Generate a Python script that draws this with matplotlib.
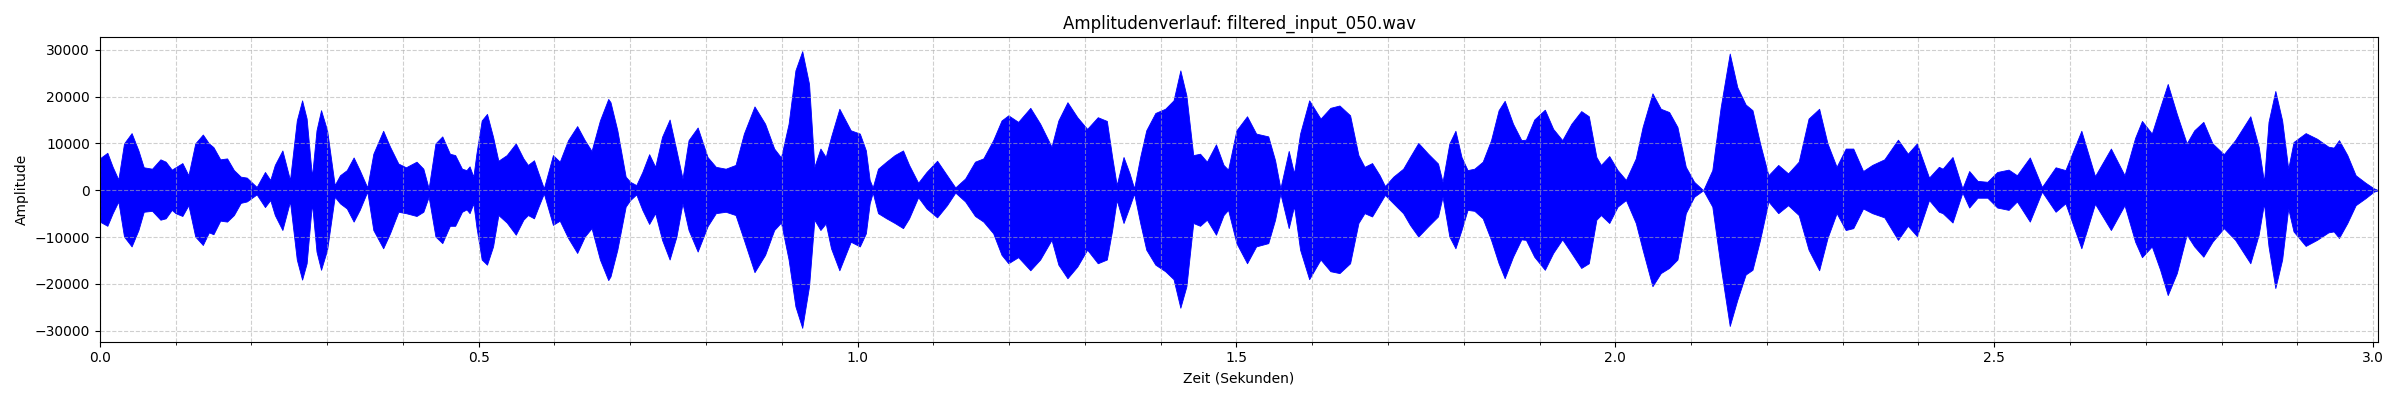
import matplotlib
matplotlib.use('Agg')
import matplotlib.pyplot as plt
from matplotlib.ticker import MultipleLocator

# envelope of filtered_input_050.wav
zeit = [0.000, 0.010, 0.017, 0.0245, 0.032, 0.042, 0.051, 0.058, 0.069, 0.080,
        0.087, 0.095, 0.100, 0.109, 0.117, 0.126, 0.136, 0.144, 0.150, 0.159,
        0.168, 0.177, 0.186, 0.194, 0.207, 0.218, 0.225, 0.231, 0.241, 0.251,
        0.260, 0.267, 0.273, 0.280, 0.286, 0.292, 0.300, 0.310, 0.317, 0.326,
        0.335, 0.343, 0.353, 0.361, 0.374, 0.383, 0.394, 0.404, 0.418, 0.427,
        0.434, 0.443, 0.452, 0.462, 0.469, 0.478, 0.484, 0.488, 0.493, 0.497,
        0.504, 0.511, 0.519, 0.526, 0.537, 0.549, 0.559, 0.565, 0.573, 0.579,
        0.586, 0.598, 0.607, 0.618, 0.630, 0.640, 0.649, 0.660, 0.671, 0.674,
        0.683, 0.694, 0.700, 0.708, 0.716, 0.725, 0.733, 0.742, 0.752, 0.761,
        0.769, 0.777, 0.789, 0.802, 0.813, 0.826, 0.839, 0.850, 0.864, 0.878,
        0.890, 0.899, 0.909, 0.918, 0.927, 0.936, 0.943, 0.951, 0.958, 0.965,
        0.976, 0.991, 1.003, 1.011, 1.016, 1.020, 1.027, 1.038, 1.049, 1.060,
        1.068, 1.080, 1.091, 1.105, 1.118, 1.129, 1.142, 1.155, 1.166, 1.179,
        1.190, 1.199, 1.212, 1.228, 1.241, 1.256, 1.265, 1.277, 1.290, 1.303,
        1.317, 1.329, 1.336, 1.342, 1.351, 1.359, 1.365, 1.373, 1.381, 1.393,
        1.406, 1.417, 1.426, 1.434, 1.443, 1.452, 1.461, 1.473, 1.483, 1.489,
        1.500, 1.514, 1.526, 1.542, 1.551, 1.558, 1.569, 1.576, 1.584, 1.596,
        1.611, 1.624, 1.636, 1.650, 1.661, 1.669, 1.679, 1.689, 1.696, 1.707,
        1.720, 1.729, 1.740, 1.753, 1.766, 1.772, 1.781, 1.789, 1.797, 1.805,
        1.814, 1.825, 1.836, 1.846, 1.854, 1.865, 1.876, 1.882, 1.893, 1.907,
        1.918, 1.930, 1.942, 1.955, 1.965, 1.975, 1.981, 1.992, 2.003, 2.014,
        2.027, 2.036, 2.049, 2.060, 2.071, 2.082, 2.093, 2.104, 2.116, 2.128,
        2.139, 2.151, 2.161, 2.172, 2.181, 2.191, 2.202, 2.215, 2.228, 2.242,
        2.255, 2.269, 2.280, 2.292, 2.304, 2.314, 2.327, 2.339, 2.355, 2.373,
        2.386, 2.398, 2.414, 2.427, 2.432, 2.445, 2.458, 2.467, 2.478, 2.491,
        2.504, 2.519, 2.530, 2.547, 2.563, 2.581, 2.594, 2.615, 2.633, 2.654,
        2.672, 2.686, 2.695, 2.708, 2.719, 2.729, 2.741, 2.754, 2.764, 2.776,
        2.788, 2.803, 2.818, 2.838, 2.849, 2.856, 2.862, 2.871, 2.880, 2.888,
        2.895, 2.911, 2.926, 2.941, 2.948, 2.955, 2.966, 2.977, 2.990, 3.001,
        3.007]

oben = [6800, 8000, 5000, 2300, 10000, 12200, 8500, 4900, 4600, 6600,
        6100, 4400, 4900, 5800, 3200, 10000, 11900, 10000, 9200, 6600,
        6800, 4300, 2900, 2700, 700, 3900, 2200, 5400, 8500, 2200,
        14900, 19200, 15300, 2900, 12800, 17100, 12800, 1100, 3200, 4300,
        7000, 4300, 600, 7800, 12700, 9300, 5700, 4900, 6100, 4600,
        400, 10000, 11500, 7800, 7500, 4600, 4300, 5100, 2900, 7800,
        14900, 16300, 11400, 6300, 7500, 10000, 6800, 5400, 6400, 3600,
        400, 7500, 6100, 10700, 13700, 10700, 8400, 14900, 19500, 18800,
        12800, 2900, 1800, 1100, 3900, 7700, 5000, 11400, 15100, 8500,
        2500, 10700, 13400, 7100, 5000, 4600, 5400, 12100, 17900, 14200,
        8900, 7000, 14200, 25600, 29700, 22700, 5000, 8900, 7100, 11400,
        17400, 12800, 12100, 8500, 2200, 600, 4600, 6100, 7500, 8500,
        5400, 1600, 3900, 6300, 3200, 600, 2500, 6100, 6800, 10700,
        14900, 16000, 14600, 17600, 14200, 9300, 14900, 18800, 15600, 13100,
        15600, 14800, 7100, 1100, 7100, 3600, 400, 7100, 12800, 16500,
        17400, 19200, 25600, 20200, 7500, 7800, 6100, 9800, 5400, 4400,
        12800, 15800, 12100, 11500, 6400, 400, 8400, 3600, 12100, 19200,
        15300, 17600, 18100, 16000, 7500, 5000, 5800, 3200, 900, 2900,
        4600, 7100, 10100, 7800, 5700, 1800, 10000, 12700, 7100, 4300,
        4600, 6100, 10700, 17100, 19100, 14200, 10700, 10800, 15100, 17200,
        13100, 10700, 14200, 16900, 15800, 7100, 5400, 7300, 4300, 2200,
        6800, 13500, 20700, 17400, 16700, 13500, 5000, 1800, 0, 4300,
        17700, 29200, 22000, 18300, 17100, 10000, 3200, 5400, 3600, 6100,
        15300, 17400, 10000, 5000, 8900, 8900, 4100, 5400, 6600, 10800,
        7800, 10000, 2700, 5000, 4600, 7100, 400, 4100, 2000, 1800,
        3900, 4400, 3200, 7000, 700, 4900, 4300, 12700, 3000, 8900,
        3200, 11200, 14800, 12100, 17700, 22700, 16300, 10000, 12800, 14600,
        10000, 7700, 10700, 15800, 9300, 1800, 14600, 21200, 14900, 4600,
        10300, 12200, 11000, 9300, 9100, 10700, 7500, 3200, 1600, 400,
        0]

unten = [-6700, -7600, -4900, -2400, -9900, -12000, -8500, -4600, -4400, -6300,
         -6000, -4200, -4900, -5500, -3200, -9900, -11700, -9000, -9400, -6500,
         -6700, -5300, -2700, -2400, -900, -3600, -2100, -5300, -8500, -2400,
         -14800, -19100, -15600, -2800, -13100, -17000, -12700, -1400, -2800, -3900,
         -6700, -4200, -300, -8500, -12400, -9200, -4600, -4900, -5500, -4600,
         -1400, -9900, -11300, -7600, -7600, -4600, -4100, -4900, -2800, -7800,
         -14800, -15900, -12000, -5300, -6900, -9500, -6300, -5300, -6000, -3500,
         -700, -7400, -6500, -10200, -13400, -9900, -8100, -14800, -19200, -18400,
         -12700, -3500, -2100, -900, -4200, -7200, -4900, -10600, -14800, -9900,
         -2800, -8500, -13100, -7700, -4900, -4600, -5300, -10600, -17500, -13800,
         -8500, -6900, -14800, -24800, -29400, -20500, -6300, -8500, -7100, -12400,
         -17100, -11000, -12000, -9200, -2800, -500, -4900, -6000, -7000, -8100,
         -6000, -1500, -3900, -5800, -3200, -500, -2400, -5500, -6700, -9200,
         -13800, -15600, -14300, -17100, -14800, -10600, -15900, -18800, -16300, -12700,
         -15600, -14800, -8500, -2100, -7000, -3500, -700, -7000, -12700, -15900,
         -17300, -19000, -25100, -20500, -7000, -7600, -6300, -9500, -5300, -4200,
         -11300, -15600, -12000, -11300, -6300, -700, -8100, -3400, -12700, -19000,
         -14800, -17300, -17700, -15600, -7000, -4900, -5600, -2900, -1000, -2800,
         -4900, -7400, -9900, -7700, -5600, -1400, -9900, -12400, -8500, -4200,
         -4400, -6000, -10600, -15600, -18800, -14200, -10500, -10600, -14200, -17000,
         -13400, -10500, -13400, -16600, -15600, -6300, -5300, -7000, -3500, -2100,
         -7000, -12700, -20500, -17700, -16600, -14800, -4900, -1400, 0, -3500,
         -16300, -29000, -23400, -18000, -17000, -10600, -2400, -4900, -3200, -5300,
         -12700, -17100, -10200, -4900, -8500, -8100, -3900, -4900, -5800, -10600,
         -7600, -9800, -2100, -4600, -4900, -6900, -500, -3700, -1600, -1600,
         -3700, -4200, -2400, -6700, -300, -4600, -2800, -12400, -2900, -8500,
         -3200, -11000, -14300, -12000, -17000, -22400, -17700, -9500, -12000, -14200,
         -11000, -8100, -10600, -15600, -9500, -2800, -12000, -20900, -14800, -3900,
         -8800, -11900, -10600, -9000, -8800, -10200, -7000, -3200, -1700, -300,
         0]

fig, ax = plt.subplots(figsize=(24, 4), dpi=100)
ax.fill_between(zeit, unten, oben, color='blue', linewidth=0.6, edgecolor='blue')
ax.set_title('Amplitudenverlauf: filtered_input_050.wav')
ax.set_xlabel('Zeit (Sekunden)')
ax.set_ylabel('Amplitude')
ax.set_xlim(0, zeit[-1])
ax.xaxis.set_minor_locator(MultipleLocator(0.1))
ax.grid(True, which='both', linestyle='--', alpha=0.6)
plt.tight_layout()
plt.savefig('out.png')
